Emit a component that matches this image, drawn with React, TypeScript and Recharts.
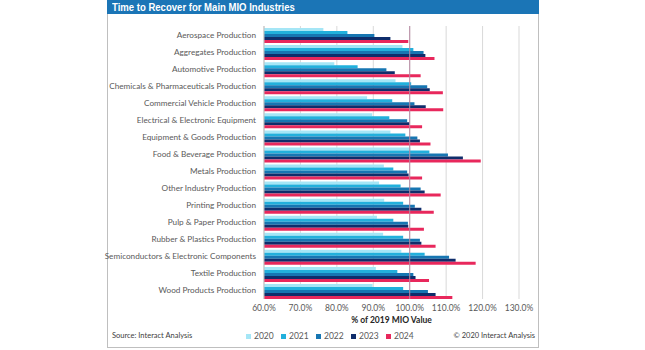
import React from "react";
import {
  BarChart,
  Bar,
  XAxis,
  YAxis,
  CartesianGrid,
  Legend,
  ReferenceLine,
} from "recharts";

const industries = [
  "Aerospace Production",
  "Aggregates Production",
  "Automotive Production",
  "Chemicals & Pharmaceuticals Production",
  "Commercial Vehicle Production",
  "Electrical & Electronic Equipment",
  "Equipment & Goods Production",
  "Food & Beverage Production",
  "Metals Production",
  "Other Industry Production",
  "Printing Production",
  "Pulp & Paper Production",
  "Rubber & Plastics Production",
  "Semiconductors & Electronic Components",
  "Textile Production",
  "Wood Products Production",
];

const y2020 = [76.3, 98.0, 79.3, 96.1, 88.3, 89.7, 94.7, 100.2, 92.9, 91.6, 93.0, 91.0, 92.7, 97.7, 90.7, 89.8];
const y2021 = [82.9, 101.0, 85.7, 100.4, 95.2, 94.4, 98.8, 105.4, 95.5, 97.5, 98.2, 95.5, 98.2, 104.1, 96.6, 98.2];
const y2022 = [90.3, 103.8, 93.6, 104.8, 101.3, 99.3, 102.1, 110.5, 99.3, 103.0, 101.4, 99.5, 102.8, 110.8, 101.0, 105.0];
const y2023 = [94.7, 104.3, 95.9, 105.5, 104.4, 99.9, 102.8, 114.6, 99.7, 104.1, 103.2, 99.6, 103.2, 112.6, 101.6, 107.1];
const y2024 = [99.6, 106.8, 103.0, 109.1, 109.2, 103.4, 105.7, 119.5, 103.4, 108.5, 106.6, 103.9, 107.1, 118.1, 105.3, 111.7];

const xTicks = [60, 70, 80, 90, 100, 110, 120, 130];

const series = [
  { key: "2020", values: y2020, color: "#a5e6f6" },
  { key: "2021", values: y2021, color: "#22b0dc" },
  { key: "2022", values: y2022, color: "#1776b2" },
  { key: "2023", values: y2023, color: "#0f2d6b" },
  { key: "2024", values: y2024, color: "#e8285c" },
];

const data = industries.map((name, i) => {
  const row: Record<string, string | number> = { name };
  series.forEach((s) => {
    row[s.key] = s.values[i];
  });
  return row;
});

const FONT = "Lato, 'Liberation Sans', sans-serif";

// plain tick so long names stay on one line
const CategoryTick = (props: any) => {
  const { x, y, payload } = props;
  return (
    <text
      x={x}
      y={y}
      dy={3}
      textAnchor="end"
      fontSize={8.2}
      fill="#595959"
      fontFamily={FONT}
    >
      {payload.value}
    </text>
  );
};

const LegendContent = (props: any) => {
  const { payload } = props;
  return (
    <div style={{ display: "flex", fontSize: 8.5, color: "#595959", fontFamily: FONT }}>
      {(payload || []).map((entry: any) => (
        <div
          key={entry.value}
          style={{ width: 35, display: "flex", alignItems: "center" }}
        >
          <span
            style={{
              display: "inline-block",
              width: 5,
              height: 5,
              background: entry.color,
              marginRight: 3,
            }}
          />
          <span>{entry.value}</span>
        </div>
      ))}
    </div>
  );
};

export default function App() {
  return (
    <div
      style={{
        position: "absolute",
        left: 0,
        top: 0,
        width: 645,
        height: 350,
        background: "#fff",
        fontFamily: FONT,
      }}
    >
      {/* frame */}
      <div
        style={{
          position: "absolute",
          left: 107,
          top: 0,
          width: 430,
          height: 347,
          border: "1px solid #bfbfbf",
          borderTop: "none",
        }}
      />
      {/* title bar */}
      <div
        style={{
          position: "absolute",
          left: 107,
          top: 0,
          width: 432,
          height: 14,
          background: "#1b75b6",
          boxSizing: "border-box",
        }}
      >
        <div
          style={{
            position: "absolute",
            left: 5,
            top: 0,
            color: "#fff",
            fontFamily: "'Liberation Sans', Arial, sans-serif",
            fontWeight: 700,
            fontSize: 11.5,
            lineHeight: "14px",
            whiteSpace: "nowrap",
            transform: "scaleX(0.83)",
            transformOrigin: "left center",
          }}
        >
          Time to Recover for Main MIO Industries
        </div>
      </div>

      <div style={{ position: "absolute", left: 0, top: 15 }}>
        <BarChart
          width={537}
          height={335}
          data={data}
          layout="vertical"
          margin={{ top: 11, right: 18, left: 0, bottom: 0 }}
          barCategoryGap={2}
          barGap={0}
        >
          <CartesianGrid horizontal={false} stroke="#d9d9d9" />
          <XAxis
            type="number"
            domain={[60, 130]}
            ticks={xTicks}
            interval={0}
            tickFormatter={(v: number) => v.toFixed(1) + "%"}
            axisLine={false}
            tickLine={false}
            tickMargin={0}
            tick={{ fontSize: 8.5, fill: "#595959", fontFamily: FONT }}
            height={51}
            label={{
              value: "% of 2019 MIO Value",
              position: "insideTop",
              offset: 18,
              fontSize: 8.5,
              fontWeight: 700,
              fill: "#262626",
              fontFamily: FONT,
            }}
          />
          <YAxis
            type="category"
            dataKey="name"
            width={264}
            interval={0}
            axisLine={{ stroke: "#bfbfbf" }}
            tickLine={false}
            tick={<CategoryTick />}
          />
          <ReferenceLine x={100} stroke="#b88aa3" strokeWidth={1} />
          {series.map((s) => (
            <Bar
              key={s.key}
              dataKey={s.key}
              fill={s.color}
              isAnimationActive={false}
            />
          ))}
          <Legend
            layout="horizontal"
            verticalAlign="middle"
            align="center"
            content={<LegendContent />}
            wrapperStyle={{
              top: 316,
              left: 246,
              width: "auto",
            }}
          />
        </BarChart>
      </div>

      <div
        style={{
          position: "absolute",
          left: 112,
          top: 331,
          fontSize: 7.5,
          color: "#404040",
        }}
      >
        Source: Interact Analysis
      </div>
      <div
        style={{
          position: "absolute",
          right: 645 - 535,
          top: 331,
          fontSize: 7.5,
          color: "#404040",
        }}
      >
        © 2020 Interact Analysis
      </div>
    </div>
  );
}
